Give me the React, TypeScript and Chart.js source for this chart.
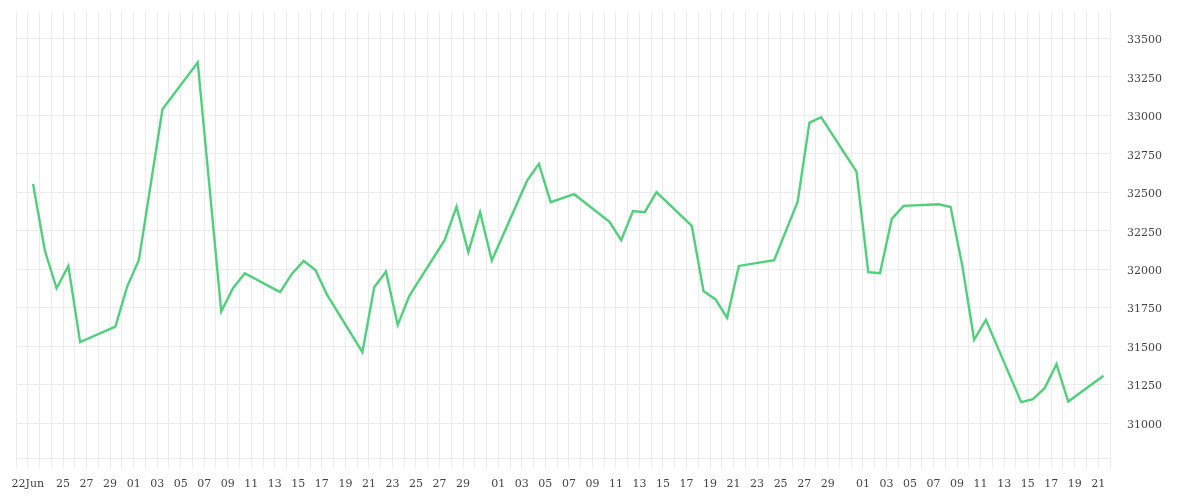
import React, { useEffect, useRef } from 'react';
import Chart from 'chart.js/auto';

// visible date range of the x axis (gridline every day)
const axisStart = '2020-06-21';
const axisEnd = '2020-09-22';
// time of day at which each value is stamped
const sessionTime = 'T10:48:00Z';

const dates = [
  '2020-06-22', '2020-06-23', '2020-06-24', '2020-06-25', '2020-06-26',
  '2020-06-29', '2020-06-30', '2020-07-01', '2020-07-03',
  '2020-07-06', '2020-07-08', '2020-07-09', '2020-07-10',
  '2020-07-13', '2020-07-14', '2020-07-15', '2020-07-16', '2020-07-17',
  '2020-07-20', '2020-07-21', '2020-07-22', '2020-07-23', '2020-07-24',
  '2020-07-27', '2020-07-28', '2020-07-29', '2020-07-30', '2020-07-31',
  '2020-08-03', '2020-08-04', '2020-08-05', '2020-08-07',
  '2020-08-10', '2020-08-11', '2020-08-12', '2020-08-13', '2020-08-14',
  '2020-08-17', '2020-08-18', '2020-08-19', '2020-08-20', '2020-08-21',
  '2020-08-24', '2020-08-26', '2020-08-27', '2020-08-28',
  '2020-08-31', '2020-09-01', '2020-09-02', '2020-09-03', '2020-09-04',
  '2020-09-07', '2020-09-08', '2020-09-09', '2020-09-10', '2020-09-11',
  '2020-09-14', '2020-09-15', '2020-09-16', '2020-09-17', '2020-09-18',
  '2020-09-21',
];

const closes = [
  32554, 32121, 31876, 32021, 31526,
  31627, 31887, 32060, 33039,
  33344, 31725, 31876, 31974,
  31851, 31969, 32054, 31995, 31833,
  31461, 31883, 31984, 31638, 31828,
  32190, 32406, 32110, 32370, 32056,
  32575, 32684, 32435, 32487,
  32307, 32188, 32377, 32370, 32500,
  32281, 31857, 31805, 31684, 32021,
  32058, 32439, 32952, 32987,
  32634, 31980, 31974, 32327, 32411,
  32422, 32404, 32020, 31541, 31671,
  31136, 31156, 31227, 31383, 31140,
  31307,
];

const yMin = 30773;
const yMax = 33671;
const yStep = 250;

const MONTHS = ['Jan', 'Feb', 'Mar', 'Apr', 'May', 'Jun', 'Jul', 'Aug', 'Sep', 'Oct', 'Nov', 'Dec'];
const DAY = 86400000;
const GRID = '#ececec';
const TEXT = '#444';
const FONT = { family: 'DejaVu Serif', size: 11 };

export default function App() {
  const canvasRef = useRef<HTMLCanvasElement>(null);
  const chartRef = useRef<Chart | null>(null);

  useEffect(() => {
    if (!canvasRef.current) return;
    if (chartRef.current) chartRef.current.destroy();

    const startMs = Date.parse(axisStart + 'T00:00:00Z');
    const endMs = Date.parse(axisEnd + 'T00:00:00Z');
    const points = dates.map((d, i) => ({
      x: (Date.parse(d + sessionTime) - startMs) / DAY,
      y: closes[i],
    }));

    chartRef.current = new Chart(canvasRef.current, {
      type: 'line',
      data: {
        datasets: [{
          data: points,
          borderColor: '#50d07c',
          borderWidth: 2.4,
          pointRadius: 0,
          tension: 0,
          fill: false,
        }],
      },
      options: {
        animation: false,
        responsive: true,
        maintainAspectRatio: false,
        layout: { padding: { left: 8, top: 4, right: 0, bottom: 0 } },
        plugins: { legend: { display: false }, tooltip: { enabled: false } },
        scales: {
          x: {
            type: 'linear',
            min: 0,
            max: (endMs - startMs) / DAY,
            afterFit: (s: any) => {
              s.height = 34;
              s.paddingLeft = 0;
              s.paddingRight = 0;
            },
            grid: { color: GRID, tickLength: 10 },
            border: { color: GRID },
            ticks: {
              stepSize: 1,
              autoSkip: false,
              maxRotation: 0,
              padding: 10,
              color: TEXT,
              font: FONT,
              callback: (value: any) => {
                const v = Number(value);
                if (!Number.isInteger(v) || v < 1) return '';
                const d = new Date(startMs + v * DAY);
                const day = d.getUTCDate();
                const dd = String(day).padStart(2, '0');
                if (v === 1) return dd + MONTHS[d.getUTCMonth()];
                if (v === 2) return '';
                return day % 2 === 1 && day !== 31 ? dd : '';
              },
            },
          },
          y: {
            position: 'right',
            min: yMin,
            max: yMax,
            afterFit: (s: any) => {
              s.width = 82;
              s.paddingTop = 0;
              s.paddingBottom = 0;
            },
            grid: { color: GRID, drawTicks: false },
            border: { color: GRID },
            ticks: {
              stepSize: yStep,
              includeBounds: false,
              padding: 17,
              labelOffset: 2,
              color: TEXT,
              font: FONT,
              callback: (value: any) => String(value),
            },
          },
        },
      },
    });

    return () => {
      if (chartRef.current) {
        chartRef.current.destroy();
        chartRef.current = null;
      }
    };
  }, []);

  return (
    <div style={{ position: 'relative', width: 1184, height: 484 }}>
      <canvas ref={canvasRef} />
    </div>
  );
}
